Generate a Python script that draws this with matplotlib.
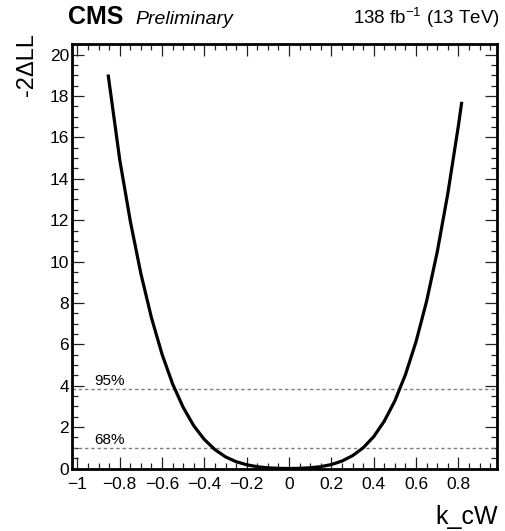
import numpy as np
import matplotlib
matplotlib.use("Agg")
import matplotlib.pyplot as plt
from matplotlib.ticker import MultipleLocator

plt.rcParams['font.family'] = ['Liberation Sans', 'DejaVu Sans']

# Likelihood scan of k_cW
k_cw = [-0.855, -0.80, -0.75, -0.70, -0.65, -0.60, -0.55, -0.50, -0.45, -0.40,
        -0.35, -0.30, -0.25, -0.20, -0.15, -0.10, -0.05, 0.00, 0.05, 0.10,
        0.15, 0.20, 0.25, 0.30, 0.35, 0.40, 0.45, 0.50, 0.55, 0.60,
        0.65, 0.70, 0.75, 0.80, 0.816]
nll2 = [19.04, 14.92, 11.95, 9.41, 7.28, 5.52, 4.08, 2.95, 2.06, 1.40,
        0.91, 0.56, 0.33, 0.18, 0.085, 0.033, 0.008, 0.0, 0.008, 0.035,
        0.091, 0.19, 0.36, 0.62, 1.00, 1.54, 2.29, 3.27, 4.54, 6.13,
        8.09, 10.46, 13.28, 16.56, 17.72]

# Confidence-level thresholds
cl_values = [1.0, 3.84]
cl_labels = ["68%", "95%"]

W, H = 506, 531
fig = plt.figure(figsize=(W / 100, H / 100), dpi=100)
ax = fig.add_axes([0.1417, 0.1177, 0.982 - 0.1417, 0.9166 - 0.1177])

ax.plot(k_cw, nll2, color='black', lw=2.3, solid_capstyle='butt', zorder=3)

for val, lab in zip(cl_values, cl_labels):
    ax.axhline(val, color='#808080', lw=1.0, ls=(0, (2.5, 2.0)), zorder=2)
    ax.text(-0.92, val + 0.04, lab, fontsize=11, ha='left', va='bottom')

ax.set_xlim(-1.027, 0.982)
ax.set_ylim(0, 20.5)

ax.set_xticks(np.arange(-1.0, 0.81, 0.2))
ax.set_xticklabels(["\u22121", "\u22120.8", "\u22120.6", "\u22120.4", "\u22120.2",
                    "0", "0.2", "0.4", "0.6", "0.8"])
ax.xaxis.set_minor_locator(MultipleLocator(0.05))
ax.yaxis.set_major_locator(MultipleLocator(2))
ax.yaxis.set_minor_locator(MultipleLocator(0.5))

ax.tick_params(which='both', direction='in', top=True, right=True,
               labelsize=12.5, width=0.9, color='#222222')
ax.tick_params(which='major', length=8.5)
ax.tick_params(which='minor', length=4.3)
ax.tick_params(axis='x', pad=6)
ax.tick_params(axis='y', pad=2)

for sp in ax.spines.values():
    sp.set_linewidth(2.0)

# Axis titles, right/top aligned in the ROOT fashion
fig.text(498 / W, 1 - 524 / H, "k_cW", fontsize=18, ha='right', va='baseline')
fig.text(33 / W, 1 - 33 / H, "-2\u0394LL", fontsize=17, rotation=90,
         ha='right', va='baseline', rotation_mode='anchor')

fig.text(0.134, 0.955, "CMS", fontsize=18, fontweight='bold', ha='left', va='baseline')
fig.text(0.268, 0.955, "Preliminary", fontsize=14, fontstyle='italic', ha='left', va='baseline')
fig.text(0.988, 0.955, "138 fb$^{\\mathregular{-1}}$ (13 TeV)", fontsize=13.5,
         ha='right', va='baseline')

fig.savefig("out.png", dpi=100)
